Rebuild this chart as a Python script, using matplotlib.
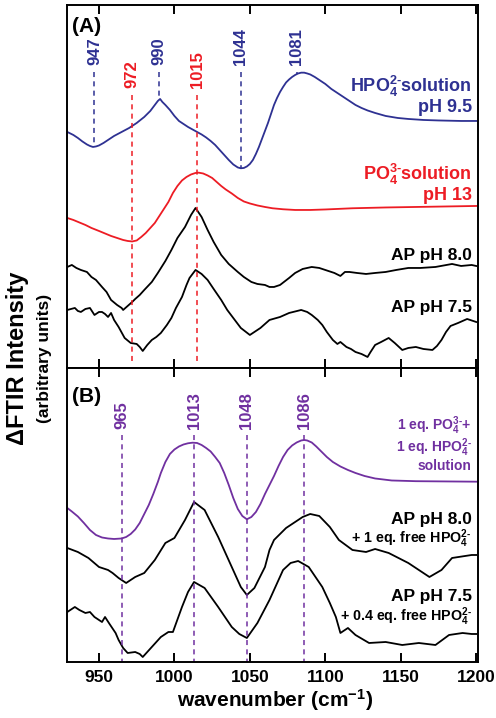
import matplotlib
matplotlib.use("Agg")
import matplotlib.pyplot as plt
import numpy as np

plt.rcParams.update({
    "font.family": ["Liberation Sans", "DejaVu Sans"],
    "font.weight": "bold",
    "mathtext.fontset": "custom",
    "mathtext.rm": "Liberation Sans:bold",
    "mathtext.it": "Liberation Sans:bold",
    "mathtext.bf": "Liberation Sans:bold",
    "axes.linewidth": 1.4,
})

BLUE = "#2e3192"
RED = "#ed1c24"
PURPLE = "#7030a0"

# ---- panel A data (wavenumber, arbitrary intensity) ----
hpo4_wn = [929, 933, 936, 939, 942, 944, 946, 948, 950, 953, 956, 960, 965,
           970, 975, 980, 984, 987, 989, 990.5, 992, 994, 997, 1000, 1003,
           1006, 1009, 1012, 1015, 1018, 1021, 1024, 1027, 1030, 1033, 1036,
           1039, 1042, 1044, 1046, 1048, 1050, 1052, 1054, 1056, 1058, 1060,
           1062, 1064, 1066, 1068, 1070, 1072, 1074, 1076, 1078, 1080, 1082,
           1084, 1086, 1088, 1090, 1093, 1096, 1100, 1104, 1108, 1112, 1116,
           1120, 1124, 1128, 1133, 1140, 1148, 1155, 1165, 1175, 1190, 1200]
hpo4_y = [236, 233, 230, 226.5, 223.5, 222, 221, 221.5, 222.5, 225, 228, 232,
          236, 240, 245, 251, 257, 263, 267, 269, 266, 263, 258, 252, 247,
          244, 241, 238.5, 236, 233.5, 230.5, 227, 223, 218, 213, 208,
          203.5, 200.5, 199.7, 200, 201.5, 204, 208, 214, 221, 229, 237,
          245, 254, 263, 270, 276, 281, 285.5, 288.5, 291, 293, 294.5,
          295.3, 295.3, 294.5, 293.5, 291, 288, 284, 279, 275, 271, 267,
          263, 260, 257.5, 255, 252, 250, 249, 248, 247.5, 247, 247]

po4_wn = [929, 933, 937, 941, 945, 950, 954, 958, 962, 966, 969, 972, 975,
          978, 981, 984, 987, 990, 993, 996, 999, 1002, 1005, 1008, 1011,
          1014, 1016, 1019, 1022, 1025, 1028, 1031, 1034, 1038, 1042, 1046,
          1050, 1055, 1060, 1065, 1072, 1080, 1090, 1100, 1118, 1140, 1160,
          1180, 1200]
po4_y = [150, 148, 145.5, 143, 140, 137, 134.5, 132, 130, 128, 127, 126.5,
         127.5, 131, 135, 140, 145, 152, 159, 166, 175, 182, 187.5, 191,
         193.5, 195, 195.3, 194.5, 192.5, 190, 186, 182, 178.5, 174.5, 170,
         166.5, 164.5, 162.5, 161, 159.7, 158.7, 158, 158, 158.5, 159.7,
         160.5, 161, 161.5, 162]

ap80_wn = [929, 932, 935, 938, 942, 945, 948, 952, 955, 958, 962, 965, 966,
           969, 972, 974, 977, 980, 985, 989, 994, 998, 1002, 1007, 1011, 1014,
           1018, 1022, 1026, 1031, 1036, 1042, 1046, 1051, 1055, 1060, 1063,
           1066, 1070, 1076, 1080, 1085, 1091, 1096, 1100, 1106, 1110, 1113,
           1116, 1121, 1127, 1133, 1140, 1147, 1155, 1163, 1173, 1184, 1190,
           1197, 1200]
ap80_y = [101, 103, 100, 98, 96, 91, 88, 81, 76, 68, 63, 60, 58,
          62, 66, 69, 73, 78, 86, 95, 107, 118, 130, 141, 153, 160,
          151, 138, 126, 113, 104, 96, 91, 86, 84, 83, 81,
          81, 83, 90, 95, 99, 101, 100, 98, 95, 92, 96,
          96, 95, 94, 95, 96, 98, 100, 100, 101, 104, 102,
          103, 102]

ap75_wn = [929, 934, 936, 938, 941, 944, 947, 950, 952, 954, 956, 958, 960,
           963, 967, 971, 975, 977, 979, 982, 985, 988, 991, 995, 998, 1001,
           1005, 1008, 1010, 1014, 1018, 1022, 1026, 1031, 1035, 1040, 1044,
           1050, 1053, 1057, 1063, 1070, 1076, 1084, 1088, 1091, 1095, 1098,
           1101, 1105, 1108, 1110, 1114, 1117, 1120, 1124, 1128, 1130, 1133,
           1137, 1142, 1146, 1151, 1155, 1160, 1165, 1171, 1174, 1177, 1180,
           1183, 1188, 1194, 1200]
ap75_y = [58, 60, 57, 56, 59, 60, 53, 56, 56, 54, 51, 55, 48,
          41, 30, 25, 24, 21, 17, 23, 28, 31, 35, 43, 50, 60,
          71, 83, 90, 98, 94, 88, 79, 68, 58, 48, 40,
          33, 36, 40, 48, 51, 55, 58, 56, 53, 48, 43,
          36, 28, 24, 26, 21, 19, 16, 14, 11, 16, 23,
          26, 30, 25, 18, 20, 21, 19, 18, 22, 28, 36,
          42, 45, 49, 46]

# ---- panel B data ----
mix_wn = [929, 932, 936, 940, 944, 948, 952, 956, 960, 965, 968, 971, 974,
          977, 980, 983, 986, 989, 991, 994, 997, 1000, 1003, 1006, 1009,
          1012, 1015, 1018, 1021, 1024, 1027, 1030, 1033, 1036, 1039, 1042,
          1045, 1048, 1051, 1054, 1057, 1060, 1063, 1066, 1069, 1072, 1075,
          1078, 1081, 1084, 1086, 1088, 1091, 1094, 1097, 1101, 1105, 1110,
          1115, 1120, 1126, 1133, 1144, 1160, 1200]
mix_y = [154, 150.5, 145.5, 139, 132, 127, 124.5, 123.5, 123, 123.5, 125,
         128, 132.5, 139, 148, 157, 168, 180, 189, 200, 208, 212.5, 215.5,
         217.5, 218.7, 219.3, 219, 217, 214, 210.5, 205, 199, 189, 177, 164,
         153, 146, 142.7, 145, 150, 158, 168, 177, 186, 196, 205, 212,
         216.5, 219.5, 221.5, 222, 221.5, 219.5, 215.5, 211, 205, 200, 195.5,
         192, 189, 186, 183.5, 181.5, 180.8, 180.3]

ap80b_wn = [929, 936, 943, 950, 956, 959, 963, 968, 974, 980, 987, 994, 1000,
            1007, 1013, 1020, 1029, 1038, 1044, 1048, 1053, 1060, 1063, 1066,
            1074, 1085, 1090, 1096, 1103, 1109, 1118, 1127, 1133, 1142, 1155,
            1169, 1177, 1184, 1197, 1200]
ap80b_y = [114, 110, 104, 95, 92, 89, 84, 79, 85, 89, 102, 119, 124,
           142, 160, 152, 125, 95, 75, 67, 74, 95, 112, 122,
           134, 145, 148, 146, 135, 122, 112, 110, 113, 109, 99,
           85, 92, 104, 107, 107]

ap75b_wn = [929, 934, 937, 941, 944, 947, 952, 954, 957, 961, 963, 966, 969,
            974, 977, 979, 985, 991, 996, 999, 1005, 1009, 1013, 1020, 1029,
            1038, 1043, 1048, 1055, 1063, 1072, 1077, 1082, 1089, 1098, 1103,
            1107, 1110, 1115, 1120, 1129, 1140, 1151, 1162, 1173, 1182, 1191,
            1197, 1200]
ap75b_y = [50, 55, 52, 49, 50, 45, 40, 45, 38, 29, 22, 14, 9,
           10, 8, 5, 15, 25, 30, 30, 55, 70, 80, 74, 55,
           35, 28, 24, 39, 62, 92, 99, 101, 95, 75, 59,
           45, 29, 34, 27, 19, 20, 17, 19, 17, 27, 29,
           28, 28]

blue_peaks = [947, 990, 1044, 1081]
red_peaks = [972, 1015]
purple_peaks = [965, 1013, 1048, 1086]

XTICKS = [950, 1000, 1050, 1100, 1150, 1200]
DASH = (0, (3.3, 2.8))

fig = plt.figure(figsize=(4.96, 7.18), dpi=100)
ax_a = fig.add_axes([0.1357, 0.4875, 0.8274, 0.5056])
ax_b = fig.add_axes([0.1357, 0.078, 0.8274, 0.4095])

for ax in (ax_a, ax_b):
    ax.set_xlim(929, 1201)
    ax.set_xticks(XTICKS)
    ax.set_yticks([])
    ax.tick_params(axis="x", direction="in", top=True, bottom=True,
                   length=6.5, width=1.4, labelsize=12.5, pad=6)
ax_a.tick_params(axis="x", labelbottom=False)
ax_a.set_ylim(0, 363)
ax_b.set_ylim(0, 294)

# ---- panel A ----
ax_a.plot(hpo4_wn, hpo4_y, color=BLUE, lw=1.3)
ax_a.plot(po4_wn, po4_y, color=RED, lw=1.3)
ax_a.plot(ap80_wn, ap80_y, color="black", lw=1.3)
ax_a.plot(ap75_wn, ap75_y, color="black", lw=1.3)

for p in blue_peaks:
    ax_a.plot([p, p], [296, np.interp(p, hpo4_wn, hpo4_y)], color=BLUE,
              lw=1.1, ls=DASH)
    ax_a.text(p, 303, str(p), rotation=90, ha="center", va="bottom",
              color=BLUE, fontsize=12)
for p in red_peaks:
    ax_a.plot([p, p], [273, 7], color=RED, lw=1.1, ls=DASH)
    ax_a.text(p, 280, str(p), rotation=90, ha="center", va="bottom",
              color=RED, fontsize=12)

ax_a.text(1197, 276, "HPO$_4^{2\u2010}$solution", ha="right", va="baseline",
          color=BLUE, fontsize=13)
ax_a.text(1197, 256, "pH 9.5", ha="right", va="baseline", color=BLUE, fontsize=13)
ax_a.text(1197, 188, "PO$_4^{3\u2010}$solution", ha="right", va="baseline",
          color=RED, fontsize=13)
ax_a.text(1197, 168, "pH 13", ha="right", va="baseline", color=RED, fontsize=13)
ax_a.text(1197, 108, "AP pH 8.0", ha="right", va="baseline", fontsize=12.5)
ax_a.text(1197, 56, "AP pH 7.5", ha="right", va="baseline", fontsize=12.5)
ax_a.text(932, 336, "(A)", ha="left", va="baseline", fontsize=15)

# ---- panel B ----
ax_b.plot(mix_wn, mix_y, color=PURPLE, lw=1.3)
ax_b.plot(ap80b_wn, ap80b_y, color="black", lw=1.3)
ax_b.plot(ap75b_wn, ap75b_y, color="black", lw=1.3)

for p in purple_peaks:
    ax_b.plot([p, p], [227, 0], color=PURPLE, lw=1.1, ls=DASH)
    ax_b.text(p, 233, str(p), rotation=90, ha="center", va="bottom",
              color=PURPLE, fontsize=12)

ax_b.text(1197, 231.5, "1 eq. PO$_4^{3\u2010}$+", ha="right", va="baseline",
          color=PURPLE, fontsize=10)
ax_b.text(1197, 209.5, "1 eq. HPO$_4^{2\u2010}$", ha="right", va="baseline",
          color=PURPLE, fontsize=10)
ax_b.text(1197, 192, "solution", ha="right", va="baseline",
          color=PURPLE, fontsize=10)
ax_b.text(1197, 138, "AP pH 8.0", ha="right", va="baseline", fontsize=12.5)
ax_b.text(1197, 119, "+ 1 eq. free HPO$_4^{2\u2010}$", ha="right",
          va="baseline", fontsize=10.3)
ax_b.text(1197, 61, "AP pH 7.5", ha="right", va="baseline", fontsize=12.5)
ax_b.text(1197, 41, "+ 0.4 eq. free HPO$_4^{2\u2010}$", ha="right",
          va="baseline", fontsize=10.3)
ax_b.text(932, 260, "(B)", ha="left", va="baseline", fontsize=15)

# axis labels
fig.text(0.555, 1 - 706.7 / 718, "wavenumber (cm$^{\u22121}$)", ha="center",
         va="baseline", fontsize=15)
fig.text(0.036, 0.501, "\u0394FTIR Intensity", rotation=90, ha="center",
         va="center", fontsize=17)
fig.text(0.089, 0.501, "(arbitrary units)", rotation=90, ha="center",
         va="center", fontsize=12.5)

fig.savefig("out.png", dpi=100)
